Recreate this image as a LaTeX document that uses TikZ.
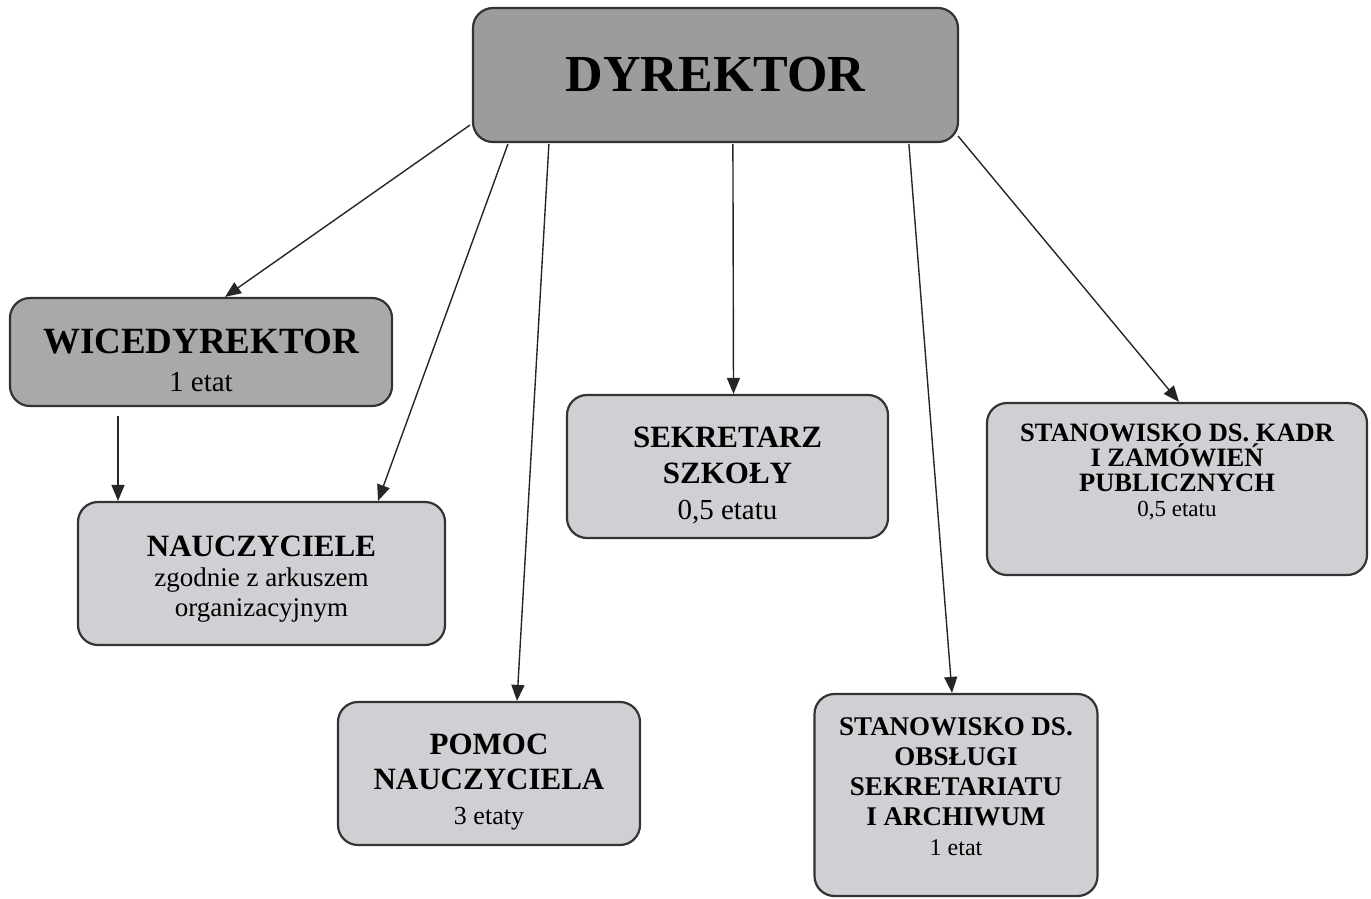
\documentclass[tikz,border=0pt]{standalone}
\usepackage{fontspec}
\setmainfont{Liberation Serif}
\usepackage{xcolor}
\usetikzlibrary{arrows.meta,calc}

\definecolor{boxtop}{HTML}{9C9C9C}
\definecolor{boxmid}{HTML}{A9A9A9}
\definecolor{boxlight}{HTML}{D0D0D4}

\begin{document}
\begin{tikzpicture}[>={Triangle[length=16pt,width=13pt]}, x=1pt, y=-1pt,
  box/.style={draw=black!80, line width=2.2pt, rounded corners=20pt, align=center,
    fill=boxlight, inner sep=0pt},
  link/.style={->, line width=1.4pt, black!85}]
  \useasboundingbox (0,0) rectangle (1371,898);
  % boxes
  \node[box, fill=boxtop, minimum width=485pt, minimum height=134pt,
    font=\fontsize{52}{60}\selectfont\bfseries] (dyr) at (715.5,75) {DYREKTOR};
  \node[box, fill=boxmid, minimum width=382pt, minimum height=108pt,
    font=\fontsize{37}{38}\selectfont\bfseries] (wice) at (201,352)
    {\rule{0pt}{42pt}WICEDYREKTOR\\ {\fontsize{29}{32}\selectfont\mdseries 1 etat}};
  \node[box, minimum width=367pt, minimum height=143pt,
    font=\fontsize{31}{30}\selectfont\bfseries] (naucz) at (261.5,573.5)
    {\rule{0pt}{32pt}NAUCZYCIELE\\ {\fontsize{27}{30}\selectfont\mdseries zgodnie z arkuszem}\\
     {\fontsize{27}{30}\selectfont\mdseries organizacyjnym}};
  \node[box, minimum width=302pt, minimum height=143pt,
    font=\fontsize{31}{35}\selectfont\bfseries] (pomoc) at (489,773.5)
    {\rule{0pt}{38pt}POMOC\\ NAUCZYCIELA\\ {\fontsize{26}{30}\selectfont\mdseries 3 etaty}};
  \node[box, minimum width=321pt, minimum height=143pt,
    font=\fontsize{31}{36}\selectfont\bfseries] (sekr) at (727.5,466.5)
    {\rule{0pt}{38pt}SEKRETARZ\\ SZKOŁY\\ {\fontsize{29}{32}\selectfont\mdseries 0,5 etatu}};
  \node[box, minimum width=380pt, minimum height=172pt,
    font=\fontsize{26.5}{25}\selectfont\bfseries] (kadr) at (1177,489)
    {STANOWISKO DS. KADR\\ I ZAMÓWIEŃ\\ PUBLICZNYCH\\
     {\fontsize{23}{26}\selectfont\mdseries 0,5 etatu\rule[-38pt]{0pt}{38pt}}};
  \node[box, minimum width=283pt, minimum height=202pt,
    font=\fontsize{27}{30}\selectfont\bfseries] (obsl) at (956,795)
    {STANOWISKO DS.\\ OBSŁUGI\\ SEKRETARIATU\\ I ARCHIWUM\\
     {\fontsize{24}{28}\selectfont\mdseries 1 etat\rule[-17pt]{0pt}{17pt}}};
  % links
  \draw[link] ($(dyr.south west)+(-2,-18)$) -- ($(wice.north)+(24,0)$);
  \draw[link] ($(dyr.south west)+(36,1)$) -- ($(naucz.north)+(116.5,0)$);
  \draw[link] ($(dyr.south west)+(77,1)$) -- ($(pomoc.north)+(28,0)$);
  \draw[link] ($(dyr.south west)+(261,1)$) -- ($(sekr.north)+(6,0)$);
  \draw[link] ($(dyr.south west)+(437,1)$) -- ($(obsl.north)+(-4,0)$);
  \draw[link] ($(dyr.south east)+(-1,-7)$) -- ($(kadr.north)+(2,0)$);
  \draw[link] ($(wice.south)+(-83,9)$) -- ($(naucz.north)+(-143.5,0)$);
\end{tikzpicture}
\end{document}
